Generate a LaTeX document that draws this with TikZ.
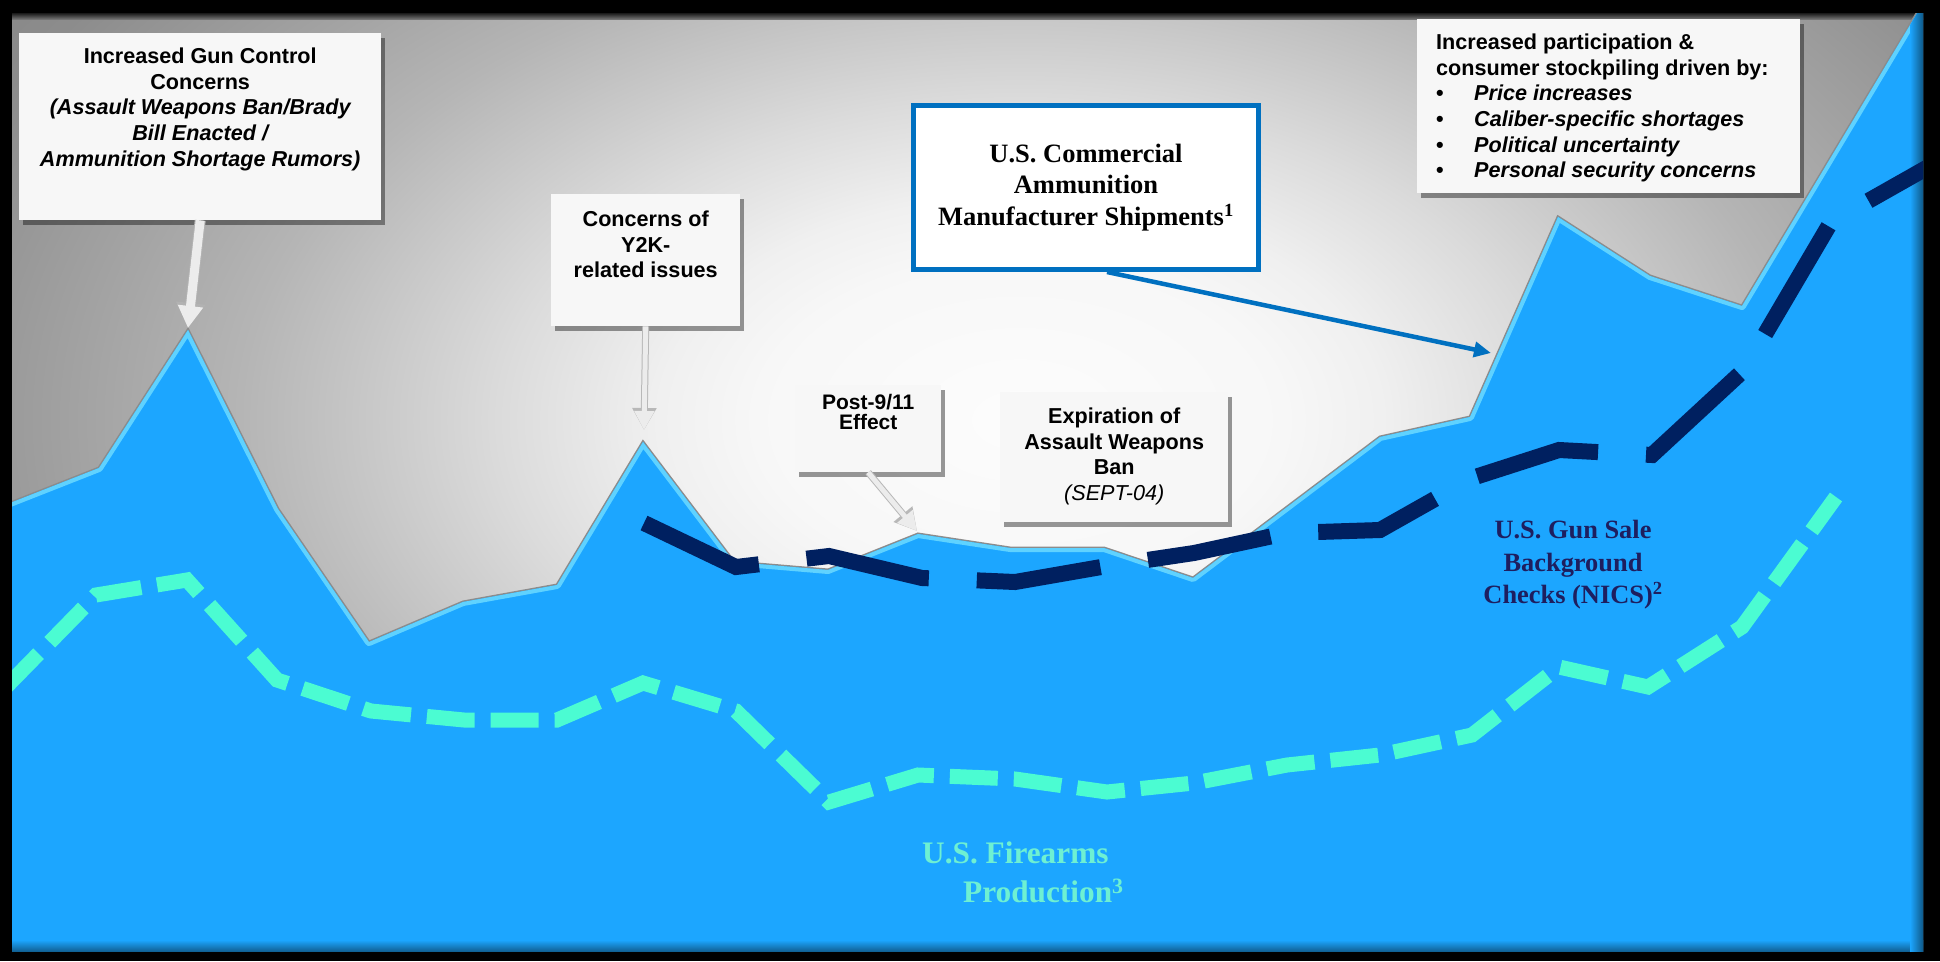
\documentclass[tikz,border=0pt]{standalone}
\usepackage{fontspec}
\usepackage{tikz}
\usetikzlibrary{arrows.meta}
\usetikzlibrary{shadows}

\newfontfamily\calloutfamily{Liberation Sans}
\newfontfamily\seriesfamily{Liberation Serif}

\definecolor{ammoblue}{RGB}{28,166,255}
\definecolor{ammoglint}{RGB}{95,210,255}
\definecolor{nicsnavy}{RGB}{0,32,96}
\definecolor{nicstext}{RGB}{30,30,95}
\definecolor{prodcyan}{RGB}{75,252,210}
\definecolor{prodtext}{RGB}{110,240,210}
\definecolor{boxfill}{RGB}{247,247,247}
\definecolor{shipblue}{RGB}{0,112,192}
\definecolor{arrowwhite}{RGB}{236,236,236}

\pgfdeclareradialshading{backglow}{\pgfpoint{0bp}{0bp}}{color(0bp)=(black!1); color(5bp)=(black!3); color(7bp)=(black!6); color(10bp)=(black!14); color(12bp)=(black!20); color(15bp)=(black!29); color(18bp)=(black!36); color(22bp)=(black!45); color(27.5bp)=(black!50); color(50bp)=(black!52)}

% top edge of the shipments area
\newcommand{\shiptop}{(5,505) -- (99,468) -- (188,330) -- (278,509) -- (369,642) -- (463,602) -- (557,585) -- (643,442) -- (734,562) -- (828,570) -- (918,534) -- (1010,548) -- (1104,548) -- (1193,578) -- (1380,437) -- (1470,417) -- (1558,217) -- (1650,276) -- (1742,306) -- (1922,5)}
\newcommand{\calltext}[4]{\parbox[t][#1][t]{#2}{\vspace*{#3}#4}}
\newcommand{\bulletitem}[1]{\makebox[38pt][l]{\textbullet}\textit{#1}}

\begin{document}
\begin{tikzpicture}[x=1pt, y=-1pt,
    callout/.style={fill=boxfill, inner sep=0pt, anchor=north west,
      drop shadow={shadow xshift=4pt, shadow yshift=-5pt, opacity=0.4, fill=black},
      font=\calloutfamily\bfseries\fontsize{21.6}{25.7}\selectfont},
    thicktip/.style={preaction={draw=black!30, line width=11pt, -{Triangle[width=28pt,length=25pt]}},
      draw=arrowwhite, line width=9pt, -{Triangle[width=24pt,length=22pt]}},
    thintip/.style={preaction={draw=black!28, line width=7pt, -{Triangle[width=23pt,length=22pt]}},
      draw=arrowwhite, line width=5pt, -{Triangle[width=19pt,length=19pt]}},
    shiptip/.style={draw=shipblue, line width=4.5pt, -{Triangle[width=15pt,length=17pt]}},
    prodline/.style={draw=prodcyan, line width=15pt, dash pattern=on 48pt off 16pt},
    nicsline/.style={draw=nicsnavy, line width=16pt, dash pattern=on 125pt off 48pt},
    serieslabel/.style={inner sep=0pt, font=\seriesfamily\bfseries}]
  \useasboundingbox (0,0) rectangle (1940,961);
  % frame
  \fill[black] (0,0) rectangle (1940,961);
  \begin{scope}
    \clip (12,13) rectangle (1923,951);
    % background
    \shade[shading=backglow] (-280,-380) rectangle (2320,1220);
    \shade[top color=black!90, bottom color=black!55] (12,13) rectangle (1923,19);
    % ammunition shipments area
    \draw[black!45, line width=3pt] \shiptop;
    \fill[ammoblue] \shiptop -- (1930,5) -- (1930,960) -- (5,960) -- cycle;
    \begin{scope}
      \clip \shiptop -- (1930,5) -- (1930,960) -- (5,960) -- cycle;
      \draw[ammoglint, line width=8pt, line join=round] \shiptop;
      \shade[top color=ammoblue, bottom color=ammoblue!55!black] (5,940) rectangle (1930,952);
      \shade[left color=ammoblue, right color=ammoblue!50!black] (1910,0) rectangle (1924,960);
    \end{scope}
    % firearms production
    \draw[prodline] (5,688) -- (96,595) -- (187,580) -- (277,680) -- (371,711) -- (464,720) -- (557,720) -- (643,683) -- (736,711) -- (829,802) -- (918,775) -- (1015,779) -- (1107,792) -- (1194,783) -- (1287,765) -- (1380,755) -- (1472,735) -- (1559,667) -- (1648,687) -- (1742,627) -- (1836,497);
    % background checks
    \draw[nicsline] (644,523) -- (736,567) -- (829,556) -- (922,578) -- (1015,582) -- (1107,566) -- (1194,553) -- (1287,533) -- (1380,530) -- (1472,478) -- (1559,450) -- (1652,455) -- (1744,370) -- (1831,222) -- (1930,166);
  \end{scope}

  % series labels
  \node[serieslabel, text=prodtext, align=left, anchor=west, font=\seriesfamily\bfseries\fontsize{31.3}{39}\selectfont] (prodlabel) at (922,872) {U.S. Firearms\\\hspace*{41pt}Production\textsuperscript{3}};
  \node[serieslabel, text=nicstext, align=center, font=\seriesfamily\bfseries\fontsize{26.4}{32.5}\selectfont] (nicslabel) at (1573,565) {U.S. Gun Sale\\Background\\Checks (NICS)\textsuperscript{2}};
  \node[draw=shipblue, line width=5pt, fill=white, minimum width=345pt, minimum height=164pt, inner sep=0pt, align=center, font=\seriesfamily\bfseries\fontsize{26.5}{31.5}\selectfont] (shipments) at (1086,187.5) {U.S. Commercial\\Ammunition\\Manufacturer Shipments\textsuperscript{1}};

  % callouts
  \node[callout] (guncontrol) at (19,33) {\calltext{187pt}{362pt}{14.5pt}{\centering Increased Gun Control\\Concerns\\\itshape (Assault Weapons Ban/Brady\\Bill Enacted /\\Ammunition Shortage Rumors)}};
  \node[callout] (y2k) at (551,194) {\calltext{132pt}{189pt}{16.5pt}{\centering Concerns of\\Y2K-\\related issues}};
  \node[callout, font=\calloutfamily\bfseries\fontsize{21}{20}\selectfont] (postnineeleven) at (795,385) {\calltext{87pt}{146pt}{9.5pt}{\centering Post-9/11\\Effect}};
  \node[callout] (awbexpiry) at (1000,392) {\calltext{130pt}{228pt}{15.5pt}{\centering Expiration of\\Assault Weapons\\Ban\\\mdseries\itshape (SEPT-04)}};
  \node[callout, inner xsep=19pt] (stockpiling) at (1417,19) {\calltext{174pt}{345pt}{14.5pt}{\raggedright Increased participation \&\\consumer stockpiling driven by:\\\bulletitem{Price increases}\\\bulletitem{Caliber-specific shortages}\\\bulletitem{Political uncertainty}\\\bulletitem{Personal security concerns}}};

  % pointers
  \coordinate (gunpeak) at (188,328);
  \coordinate (y2kpeak) at (644,430);
  \coordinate (sept11peak) at (917,531);
  \coordinate (shipedge) at (1491,353);
  \draw[thicktip] (guncontrol.south) -- (gunpeak);
  \draw[thintip] (y2k.south) -- (y2kpeak);
  \draw[thintip] (postnineeleven.south) -- (sept11peak);
  \draw[shiptip] ([xshift=21pt]shipments.south) -- (shipedge);
\end{tikzpicture}
\end{document}
